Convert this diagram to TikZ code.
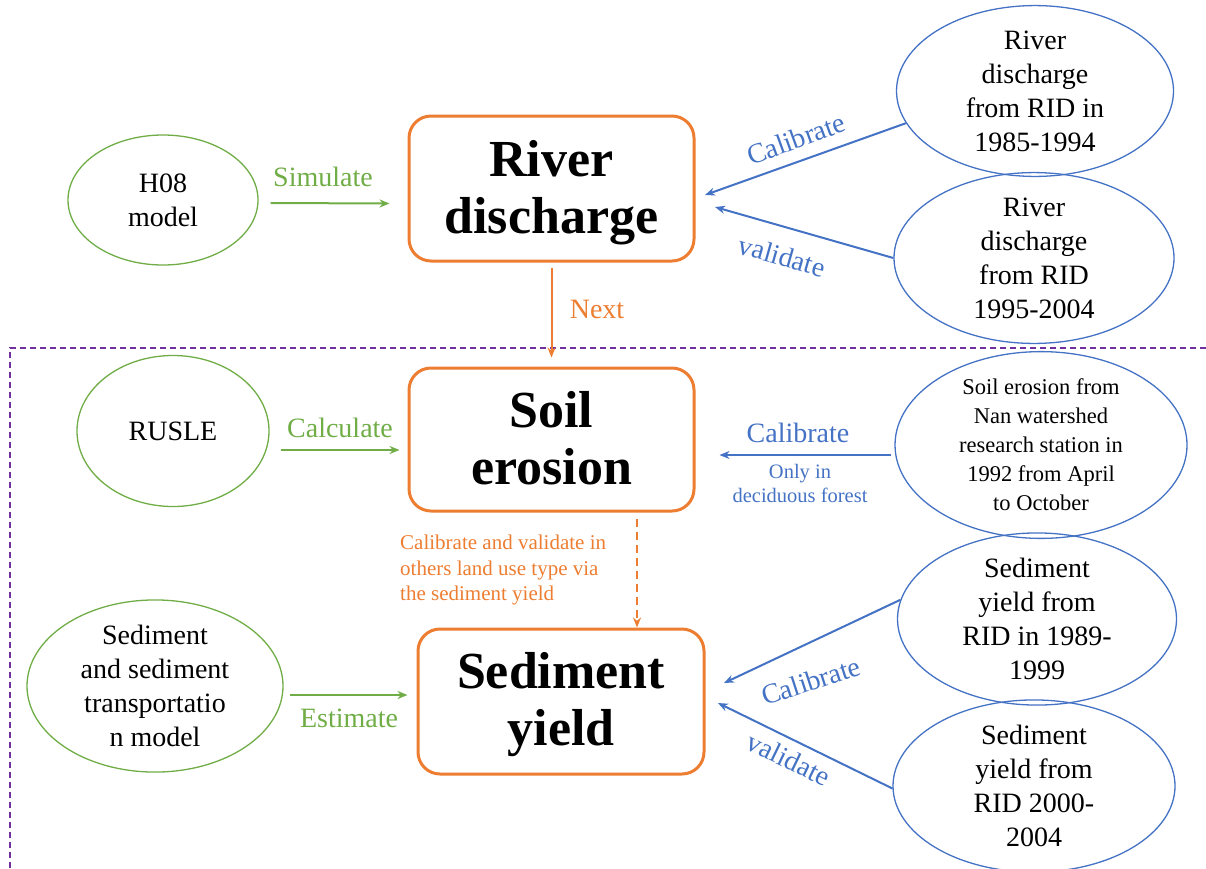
\documentclass[tikz,border=0pt]{standalone}
\usepackage{fontspec}
\IfFontExistsTF{Liberation Serif}{\setmainfont{Liberation Serif}}{\setmainfont{DejaVu Serif}}
\usetikzlibrary{shapes.geometric,arrows.meta,calc}
\definecolor{cor}{HTML}{ED7D31}
\definecolor{cgr}{HTML}{70AD47}
\definecolor{cbl}{HTML}{4472C4}
\definecolor{cpu}{HTML}{7030A0}
\tikzset{
  mainbox/.style={draw=cor,line width=3pt,rounded corners=22pt,inner sep=0pt},
  boxtext/.style={inner sep=0pt,align=center,font=\rmfamily\fontsize{52}{57}\selectfont\bfseries},
  grell/.style={draw=cgr,line width=1.3pt,ellipse,inner sep=0pt,align=center,
    font=\rmfamily\fontsize{28}{34}\selectfont},
  blell/.style={draw=cbl,line width=1.3pt,ellipse,inner sep=0pt,align=center,
    font=\rmfamily\fontsize{28}{34}\selectfont},
  grarr/.style={draw=cgr,line width=2pt,-{Stealth[length=10pt,width=8pt]}},
  blarr/.style={draw=cbl,line width=2pt,-{Stealth[length=10pt,width=8pt]}},
  orarr/.style={draw=cor,line width=2pt,-{Stealth[length=10pt,width=8pt]}},
  grlab/.style={text=cgr,font=\rmfamily\fontsize{28}{32}\selectfont,inner sep=0pt},
  bllab/.style={text=cbl,font=\rmfamily\fontsize{28}{32}\selectfont,inner sep=0pt},
  orlab/.style={text=cor,font=\rmfamily\fontsize{28}{32}\selectfont,inner sep=0pt},
}
\begin{document}
\begin{tikzpicture}[x=1pt,y=-1pt]
\useasboundingbox (0,0) rectangle (1206,868);
% dashed frame
\draw[cpu,line width=1.3pt,dash pattern=on 6pt off 4pt] (10,868) -- (10,348) -- (1206,348);
% main boxes
\node[mainbox,minimum width=285pt,minimum height=145pt] (rd) at (551.5,188.5) {};
\node[boxtext] (rdt) at ($(rd)+(0,4)$) {River\\discharge};
\node[mainbox,minimum width=285pt,minimum height=143pt] (se) at (551.5,439.5) {};
\node[boxtext] (set) at ($(se)+(0,-1)$) {Soil\\erosion};
\node[mainbox,minimum width=286pt,minimum height=145pt] (sy) at (561,701.5) {};
\node[boxtext] (syt) at ($(sy)+(0,3.5)$) {Sediment\\yield};
% green ellipses
\node[grell,minimum width=190pt,minimum height=130pt] (h08) at (163,200) {H08\\model};
\node[grell,minimum width=192pt,minimum height=151pt] (rusle) at (173,431) {RUSLE};
\node[grell,minimum width=256pt,minimum height=166pt] (stm) at (155,686) {Sediment\\and sediment\\transportatio\\n model};
% blue ellipses
\node[blell,minimum width=277pt,minimum height=155pt] (e1) at (1035,91) {River\\discharge\\from RID in\\1985-1994};
\node[blell,minimum width=280pt,minimum height=157pt] (e2) at (1034,258) {River\\discharge\\from RID\\1995-2004};
\node[blell,minimum width=292pt,minimum height=170pt,font=\rmfamily\fontsize{22.5}{29}\selectfont] (e3) at (1041,445) {Soil erosion from\\Nan watershed\\research station in\\1992 from April\\to October};
\node[blell,minimum width=279pt,minimum height=155pt] (e4) at (1037,619) {Sediment\\yield from\\RID in 1989-\\1999};
\node[blell,minimum width=282pt,minimum height=157pt] (e5) at (1034,786) {Sediment\\yield from\\RID 2000-\\2004};
% tip coordinates
\coordinate (t1) at (705,195);
\coordinate (t2) at (715,207);
\coordinate (t3) at (724,683);
\coordinate (t4) at (718,703);
% green arrows
\draw[grarr] ($(h08.east)+(12,3)$) -- ($(rd.west)+(-18,15)$);
\draw[grarr] ($(rusle.east)+(11,19)$) -- ($(se.west)+(-8,10.5)$);
\draw[grarr] ($(stm.east)+(6,9)$) -- ($(sy.west)+(-9,-6.5)$);
\node[grlab] (lsim) at (323,177) {Simulate};
\node[grlab] (lcal) at (340,428) {Calculate};
\node[grlab] (lest) at (349,718) {Estimate};
% orange arrows
\draw[orarr] ($(rd.south)+(0,5)$) -- ($(se.north)+(0,-9)$);
\node[orlab] (lnext) at (597,309) {Next};
\draw[orarr,dash pattern=on 8pt off 5pt] ($(se.south)+(85.5,6)$) -- ($(sy.north)+(76,0)$);
\node[text=cor,font=\rmfamily\fontsize{21}{25.5}\selectfont,align=left,inner sep=0pt,anchor=west] (lcv) at (400,570) {Calibrate and validate in\\others land use type via\\the sediment yield};
% blue arrows
\draw[blarr] (e1.194) -- (t1);
\draw[blarr] (e2.west) -- (t2);
\draw[blarr] ($(e3.west)+(-3,10)$) -- ($(se.east)+(24,15.5)$);
\draw[blarr] (e4.172) -- (t3);
\draw[blarr] (e5.181) -- (t4);
\node[bllab,rotate=20] (lc1) at (796,139) {Calibrate};
\node[bllab,rotate=-16] (lv1) at (782,256) {validate};
\node[bllab] (lc2) at (798,433) {Calibrate};
\node[text=cbl,font=\rmfamily\fontsize{20.5}{24}\selectfont,align=center,inner sep=0pt] (lonly) at (800,483) {Only in\\deciduous forest};
\node[bllab,rotate=18] (lc3) at (811,681) {Calibrate};
\node[bllab,rotate=-26] (lv2) at (789,759) {validate};
\end{tikzpicture}
\end{document}
